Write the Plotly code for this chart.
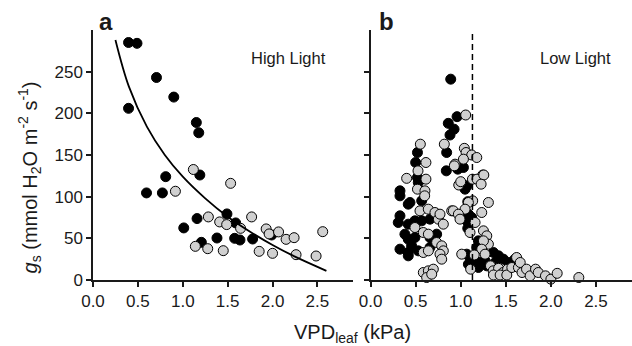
import plotly.graph_objects as go

# ---------------- data ----------------
# Panel a (High Light)
a_black_x = [0.396, 0.49, 0.707, 0.90, 0.396, 1.151, 1.178, 1.19, 0.81, 0.596, 0.773, 1.011, 1.159,
             1.207, 1.381, 1.492, 1.589, 1.578, 1.637, 1.778, 1.99]
a_black_y = [285, 284, 243, 219.5, 206, 189, 176.7, 126, 124, 104.5, 104.5, 62.5, 73.7,
             45.2, 50.4, 79.3, 68.5, 50, 48, 49.2, 54]
a_grey_x = [1.118, 0.918, 1.533, 1.285, 1.411, 1.489, 1.644, 1.767, 1.14, 1.278, 1.451, 1.851,
            2.0, 1.929, 1.962, 2.067, 2.151, 2.24, 2.262, 2.485, 2.559]
a_grey_y = [132.6, 106.5, 116, 75.7, 69.7, 66.5, 62, 75.7, 40.4, 37.6, 35.2, 34.4,
            32, 61.3, 55.3, 57.7, 48.8, 50.8, 30.4, 28.8, 58]
# fitted curve
curve_x = [0.25, 0.4, 0.6, 0.8, 1.0, 1.25, 1.5, 1.75, 2.0, 2.25, 2.6]
curve_y = [288, 232, 184, 150, 124, 98, 76, 58, 42, 28, 11]

# Panel b (Low Light)
b_black_x = [0.889, 0.959, 0.862, 0.926, 0.881, 0.844, 0.84, 0.967, 1.03, 0.52, 0.50, 0.52, 0.529,
             0.326, 0.326, 0.437, 0.567, 0.418, 0.326, 0.307, 0.418, 0.492, 0.567, 0.381, 0.418,
             0.492, 0.659, 0.733, 0.326, 0.418, 0.455, 0.529, 0.659, 0.418, 0.659, 1.048, 1.07,
             1.078, 1.085, 1.067, 1.122, 1.078, 1.196, 1.178, 1.067, 1.103, 1.14, 1.196, 1.085,
             1.215, 1.27, 1.363, 1.419, 1.474, 1.381, 1.53, 1.6, 1.289]
b_black_y = [241, 196, 188, 181, 174, 153, 131, 133, 135, 153, 141, 123, 117,
             107, 101, 93, 95, 91, 77, 69, 67, 71, 71, 55, 49,
             51, 51, 55, 37, 33, 41, 35, 39, 29, 73, 109, 113,
             94, 79, 71, 75, 62, 47, 39, 31, 27, 23, 15, 19,
             21, 23, 33, 29, 25, 21, 21, 25, 17]
b_grey_x = [1.055, 0.818, 0.552, 1.04, 1.059, 1.122, 1.178, 0.614, 0.937, 1.03, 0.526, 0.40, 0.614,
            1.244, 0.52, 0.603, 0.6, 0.929, 0.978, 1.0, 1.13, 1.181, 1.256, 1.226, 1.133, 1.307,
            1.085, 0.548, 0.64, 0.714, 0.9, 0.918, 1.048, 0.974, 0.992, 1.233, 1.159, 0.752, 0.807,
            0.77, 0.492, 0.585, 0.641, 1.103, 1.252, 1.289, 1.307, 1.252, 0.733, 0.789, 0.807,
            0.585, 0.641, 0.77, 0.789, 1.011, 1.233, 1.27, 0.585, 0.641, 0.696, 0.622, 0.678,
            1.33, 1.36, 1.42, 1.47, 1.52, 1.363, 1.437, 1.511, 1.567, 1.62, 1.64, 1.66, 1.68,
            1.73, 1.77, 1.83, 1.86, 1.94, 2.0, 2.07, 2.31, 1.15, 1.11]
b_grey_y = [198, 163, 163, 158, 153, 150, 147, 141, 139, 145, 131, 122, 121,
            126, 109, 107, 101, 137, 114, 118, 121, 121, 126, 115, 95, 93,
            93, 83, 85, 81, 83, 83, 85, 79, 73, 81, 69, 73, 67,
            79, 63, 57, 55, 57, 59, 53, 43, 47, 45, 41, 35,
            33, 35, 31, 25, 31, 37, 31, 9, 11, 13, 3, 7,
            17, 11, 14, 9, 13, 6, 6, 6, 15, 27, 15, 21, 9,
            13, 5, 13, 9, 5, 1, 8, 3, 30, 13]
dash_x = 1.13

x_ticks = [0.0, 0.5, 1.0, 1.5, 2.0, 2.5]
y_ticks = [0, 50, 100, 150, 200, 250]

# ---------------- figure ----------------
FONT = "Liberation Sans, Arial, Helvetica, sans-serif"
INK = "#1a1a1a"
GREY = "#d0d0d0"

fig = go.Figure()

def pts(x, y, fill, xa, ya):
    return go.Scatter(x=x, y=y, mode="markers", xaxis=xa, yaxis=ya, cliponaxis=False,
                      marker=dict(size=10, color=fill, line=dict(color="black", width=1)),
                      showlegend=False, hoverinfo="skip")

fig.add_trace(pts(a_black_x, a_black_y, "black", "x", "y"))
fig.add_trace(pts(a_grey_x, a_grey_y, GREY, "x", "y"))
fig.add_trace(go.Scatter(x=curve_x, y=curve_y, mode="lines", line=dict(color="black", width=1.8, shape="spline"),
                         xaxis="x", yaxis="y", showlegend=False, hoverinfo="skip"))
fig.add_trace(pts(b_black_x, b_black_y, "black", "x2", "y2"))
fig.add_trace(pts(b_grey_x, b_grey_y, GREY, "x2", "y2"))
fig.add_trace(go.Scatter(x=[dash_x, dash_x], y=[0, 300], mode="lines",
                         line=dict(color="black", width=1.5, dash="6px,4px"),
                         xaxis="x2", yaxis="y2", showlegend=False, hoverinfo="skip"))

axis_common = dict(showline=True, linecolor=INK, linewidth=1.5, ticks="outside", ticklen=5,
                   tickwidth=1.5, tickcolor=INK, showgrid=False, zeroline=False,
                   tickfont=dict(family=FONT, size=17, color=INK))

fig.update_layout(
    width=632, height=346,
    margin=dict(l=93, r=0, t=30, b=66),
    paper_bgcolor="white", plot_bgcolor="white",
    xaxis=dict(domain=[0, 0.483], range=[0, 2.9], tickvals=x_ticks,
               ticktext=[f"{v:.1f}" for v in x_ticks], anchor="y", **axis_common),
    yaxis=dict(domain=[0, 1], range=[0, 300], tickvals=y_ticks, anchor="x", **axis_common),
    xaxis2=dict(domain=[0.515, 1.0], range=[0, 2.9], tickvals=x_ticks,
                ticktext=[f"{v:.1f}" for v in x_ticks], anchor="y2", **axis_common),
    yaxis2=dict(domain=[0, 1], range=[0, 300], tickvals=y_ticks, showticklabels=False,
                anchor="x2", **axis_common),
)

ann_font = dict(family=FONT, color=INK)
fig.add_annotation(text="<b>a</b>", x=0.024, y=1.032, xref="paper", yref="paper", showarrow=False,
                   font=dict(size=24, **ann_font), xanchor="center", yanchor="middle")
fig.add_annotation(text="<b>b</b>", x=0.544, y=1.032, xref="paper", yref="paper", showarrow=False,
                   font=dict(size=24, **ann_font), xanchor="center", yanchor="middle")
fig.add_annotation(text="High Light", x=0.362, y=0.888, xref="paper", yref="paper", showarrow=False,
                   font=dict(size=16.5, **ann_font), xanchor="center", yanchor="middle")
fig.add_annotation(text="Low Light", x=0.896, y=0.888, xref="paper", yref="paper", showarrow=False,
                   font=dict(size=16.5, **ann_font), xanchor="center", yanchor="middle")
fig.add_annotation(text="VPD<sub>leaf</sub> (kPa)", x=0.482, y=-0.212, xref="paper", yref="paper",
                   showarrow=False, font=dict(size=20, **ann_font), xanchor="center", yanchor="middle")
fig.add_annotation(text="<i>g</i><sub>s</sub> (mmol H<sub>2</sub>O m<sup>-2</sup> s<sup>-1</sup>)",
                   x=-0.117, y=0.41, xref="paper", yref="paper", textangle=-90,
                   showarrow=False, font=dict(size=20, **ann_font), xanchor="center", yanchor="middle")

fig.write_html("out.html")
